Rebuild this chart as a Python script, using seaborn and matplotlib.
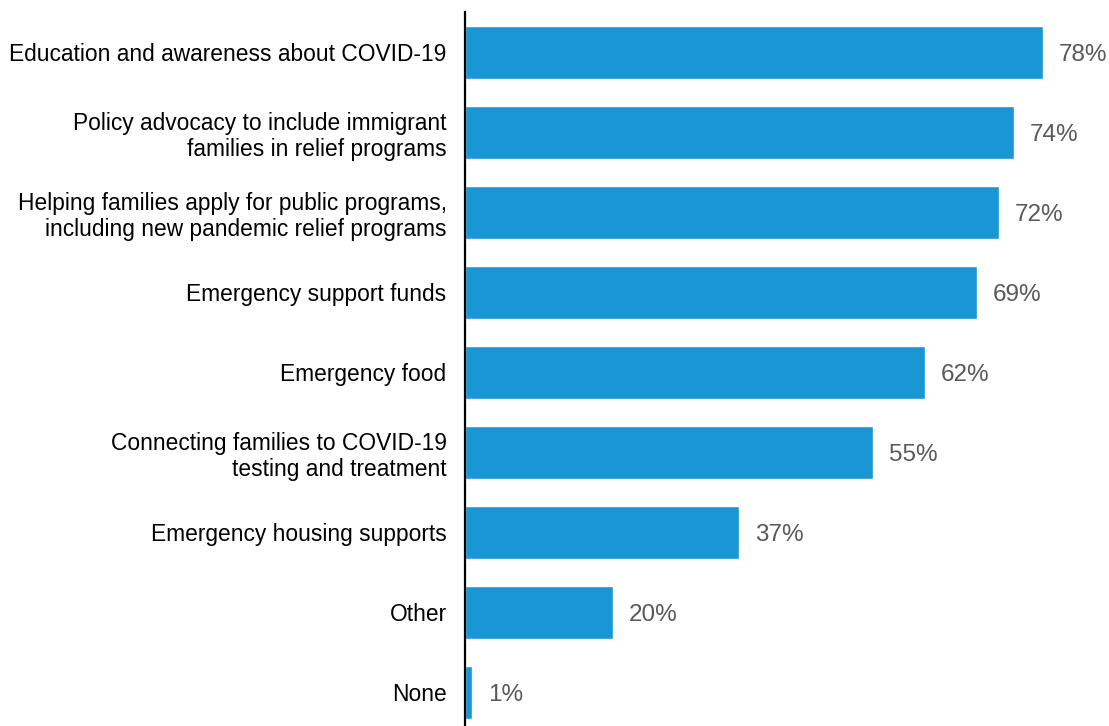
import matplotlib
matplotlib.use("Agg")
import matplotlib.pyplot as plt
import seaborn as sns
import pandas as pd

categories = [
    "Education and awareness about COVID-19",
    "Policy advocacy to include immigrant\nfamilies in relief programs",
    "Helping families apply for public programs,\nincluding new pandemic relief programs",
    "Emergency support funds",
    "Emergency food",
    "Connecting families to COVID-19\ntesting and treatment",
    "Emergency housing supports",
    "Other",
    "None",
]
shares = [78, 74, 72, 69, 62, 55, 37, 20, 1]

df = pd.DataFrame({"category": categories, "share": shares})

sns.set_style("white")
plt.rcParams["font.family"] = ["Liberation Sans", "DejaVu Sans"]

fig = plt.figure(figsize=(11.09, 7.26), dpi=100)
ax = fig.add_axes([0.419, 0.0, 0.581, 0.9835])

sns.barplot(data=df, x="share", y="category", orient="h", color="#1897D4",
            saturation=1, width=0.67, ax=ax)

ax.set_xlim(0, 86.86)
ax.set_ylim(8.42, -0.504)

# Percentage label just past the end of each bar
for i, v in enumerate(df["share"]):
    ax.annotate(f"{v}%", xy=(v, i), xytext=(11.5, 0), textcoords="offset points",
                ha="left", va="center_baseline", fontsize=17.5, color="#595959")

ax.set_xlabel("")
ax.set_ylabel("")
ax.set_xticks([])
ax.tick_params(axis="y", length=0, pad=13, labelsize=16.4, labelcolor="#000000")
for lbl in ax.get_yticklabels():
    lbl.set_multialignment("right")

for side in ["top", "right", "bottom"]:
    ax.spines[side].set_visible(False)
ax.spines["left"].set_color("#000000")
ax.spines["left"].set_linewidth(1.6)

fig.savefig("out.png", dpi=100)
